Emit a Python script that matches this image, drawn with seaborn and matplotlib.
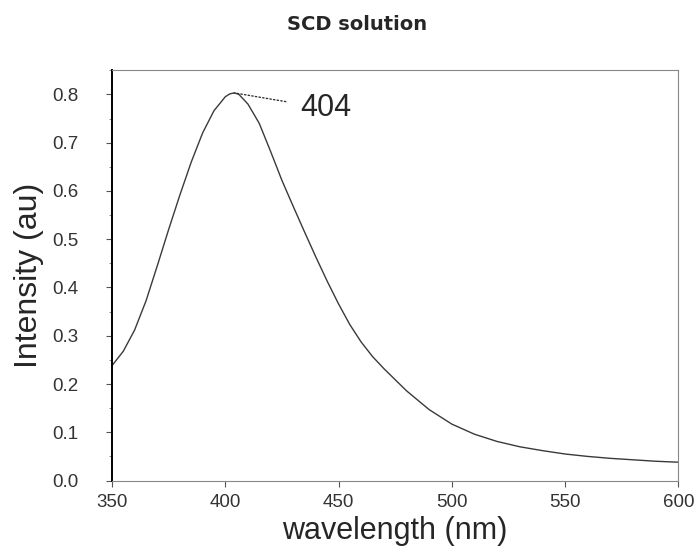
import matplotlib
matplotlib.use("Agg")
import matplotlib.pyplot as plt
from matplotlib.ticker import MultipleLocator
import numpy as np
import pandas as pd
import seaborn as sns


# -------------------------------------------------------------------------------------------
# Data

wavelength = [350, 355, 360, 365, 370, 375, 380, 385, 390, 395, 400, 402, 404, 406,
              410, 415, 420, 425, 430, 435, 440, 445, 450, 455, 460, 465, 470,
              480, 490, 500, 510, 520, 530, 540, 550, 560, 570, 580, 590, 600]
intensity = [0.238, 0.268, 0.312, 0.372, 0.445, 0.520, 0.592, 0.660, 0.720, 0.766,
             0.795, 0.801, 0.803, 0.800, 0.780, 0.740, 0.682, 0.622, 0.568, 0.515,
             0.463, 0.413, 0.366, 0.323, 0.287, 0.257, 0.232, 0.186, 0.147, 0.117,
             0.096, 0.081, 0.070, 0.062, 0.055, 0.050, 0.046, 0.043, 0.040, 0.038]

peak_label = "404"
peak_x, peak_y = 404, 0.803

df = pd.DataFrame({"wavelength": wavelength, "intensity": intensity})


# -------------------------------------------------------------------------------------------
# Plot

sns.set_style("ticks")
plt.rcParams["font.family"] = ["Liberation Sans", "DejaVu Sans"]

fig = plt.figure(figsize=(7, 5.53), dpi=100)
ax = fig.add_axes([0.16, 0.131, 0.809, 0.742])

sns.lineplot(data=df, x="wavelength", y="intensity", ax=ax,
             color="#3a3a3a", linewidth=1.0)

ax.set_xlim(350, 600)
ax.set_ylim(0, 0.85)
ax.xaxis.set_major_locator(MultipleLocator(50))
ax.yaxis.set_major_locator(MultipleLocator(0.1))
ax.yaxis.set_minor_locator(MultipleLocator(0.05))
ax.yaxis.set_major_formatter(plt.FuncFormatter(lambda v, p: f"{v:.1f}"))

ax.tick_params(axis="both", which="major", labelsize=13.5, length=4, width=0.8,
               colors="#555555", labelcolor="#333333")
ax.tick_params(axis="x", which="major", pad=6)
ax.tick_params(axis="y", which="major", pad=20)
ax.tick_params(axis="y", which="minor", length=2, width=0.6, colors="#777777")

for side in ["top", "right", "bottom"]:
    ax.spines[side].set_color("#888888")
    ax.spines[side].set_linewidth(0.8)
    ax.spines[side].set_linestyle((0, (3, 1)))
ax.spines["left"].set_color("black")
ax.spines["left"].set_linewidth(1.4)

ax.set_xlabel("wavelength (nm)", fontsize=22, labelpad=3)
ax.set_ylabel("Intensity (au)", fontsize=23, labelpad=6)

ax.annotate(peak_label, xy=(peak_x, peak_y), xytext=(433, 0.771),
            fontsize=22, va="center", ha="left",
            arrowprops=dict(arrowstyle="-", linestyle=":", color="#333333",
                            linewidth=1.0, shrinkA=8, shrinkB=0))

fig.text(0.51, 0.955, "SCD solution", ha="center", va="center",
         fontsize=14, fontweight="bold", family="DejaVu Sans")

fig.savefig("out.png", dpi=100)
print("Saved: out.png")
